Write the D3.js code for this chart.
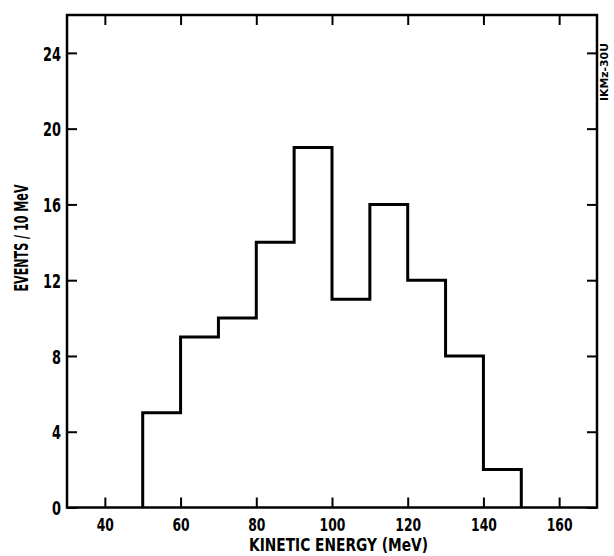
<!DOCTYPE html>
<html><head><meta charset="utf-8">
<script src="https://cdn.jsdelivr.net/npm/d3@7"></script>
<style>
body{margin:0;background:#fff;}
text{font-family:"DejaVu Sans","Liberation Sans",sans-serif;font-stretch:condensed;font-weight:bold;fill:#000;}
</style></head>
<body><svg id="c" width="614" height="556"></svg>
<script>
const binStarts = [50,60,70,80,90,100,110,120,130,140];
const binWidth = 10;
const counts = [5,9,10,14,19,11,16,12,8,2];
const xTicks = [40,60,80,100,120,140,160];
const yTicks = [0,4,8,12,16,20,24];
const xLabel = "KINETIC ENERGY (MeV)";
const yLabel = "EVENTS / 10 MeV";
const code = "IKMz-30U";

const svg = d3.select("#c");
const L=67, R=597, T=15, B=507.5;
const x = d3.scaleLinear().domain([30,170]).range([L,R]);
const y = d3.scaleLinear().domain([0,26]).range([B,T]);

svg.append("rect").attr("x",L).attr("y",T).attr("width",R-L).attr("height",B-T)
  .attr("fill","none").attr("stroke","#000").attr("stroke-width",2.5);

const tl = 10;
const gB = svg.append("g").attr("transform",`translate(0,${B})`)
  .call(d3.axisBottom(x).tickValues(xTicks).tickSize(-tl).tickPadding(11).tickFormat(d3.format("d")));
const gT = svg.append("g").attr("transform",`translate(0,${T})`)
  .call(d3.axisTop(x).tickValues(xTicks).tickSize(-tl).tickFormat(""));
const gL = svg.append("g").attr("transform",`translate(${L},0)`)
  .call(d3.axisLeft(y).tickValues(yTicks).tickSize(-tl).tickPadding(6).tickFormat(d3.format("d")));
const gR = svg.append("g").attr("transform",`translate(${R},0)`)
  .call(d3.axisRight(y).tickValues(yTicks).tickSize(-tl).tickFormat(""));

[gB,gT,gL,gR].forEach(g=>{
  g.select(".domain").remove();
  g.selectAll(".tick line").attr("stroke","#000").attr("stroke-width",2);
  g.selectAll(".tick text").style("font-family",'"DejaVu Sans",sans-serif').style("font-weight","bold").attr("fill","#000");
});
gB.selectAll(".tick text").style("font-size","17px").attr("dy","0.71em")
  .attr("textLength",d=>String(d).length*8.6).attr("lengthAdjust","spacingAndGlyphs");
gL.selectAll(".tick text").style("font-size","20px").attr("dy","0.36em")
  .attr("textLength",d=>String(d).length*9).attr("lengthAdjust","spacingAndGlyphs");

const pts = [[binStarts[0],0]];
binStarts.forEach((s,i)=>{pts.push([s,counts[i]]);pts.push([s+binWidth,counts[i]]);});
pts.push([binStarts[binStarts.length-1]+binWidth,0]);
svg.append("path").attr("d",d3.line().x(d=>x(d[0])).y(d=>y(d[1]))(pts))
  .attr("fill","none").attr("stroke","#000").attr("stroke-width",3).attr("stroke-linejoin","miter");

svg.append("text").attr("x",338.5).attr("y",551).attr("text-anchor","middle")
  .style("font-size","18px").attr("textLength",179).attr("lengthAdjust","spacingAndGlyphs").text(xLabel);
svg.append("text").attr("transform","translate(28,238) rotate(-90)").attr("text-anchor","middle")
  .style("font-size","19px").attr("textLength",107).attr("lengthAdjust","spacingAndGlyphs").text(yLabel);
svg.append("text").attr("transform","translate(608,72) rotate(-90)").attr("text-anchor","middle")
  .style("font-size","10px").attr("textLength",58).attr("lengthAdjust","spacingAndGlyphs").text(code);
</script></body></html>
